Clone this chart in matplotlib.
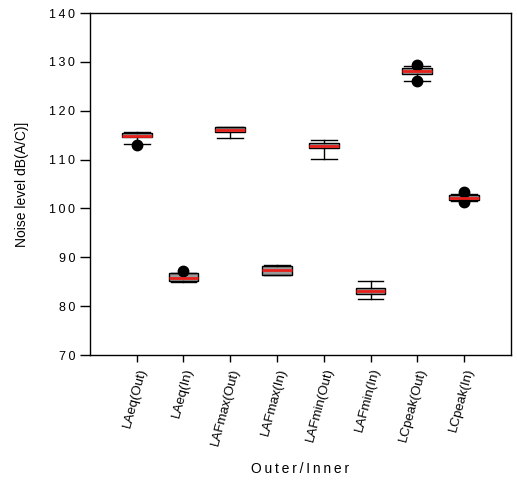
import matplotlib
matplotlib.use("Agg")
import matplotlib.pyplot as plt

plt.rcParams['font.family'] = ['Liberation Sans', 'DejaVu Sans']

# box summary per measure
labels = ['LAeq(Out)', 'LAeq(In)', 'LAFmax(Out)', 'LAFmax(In)',
          'LAFmin(Out)', 'LAFmin(In)', 'LCpeak(Out)', 'LCpeak(In)']
whislo = [113.1, 85.0, 114.5, 86.3, 110.2, 81.5, 126.1, 101.5]
q1 = [114.6, 85.1, 115.7, 86.4, 112.3, 82.5, 127.6, 101.7]
med = [114.8, 85.8, 116.05, 87.3, 112.8, 83.2, 128.1, 102.1]
q3 = [115.5, 86.7, 116.6, 88.3, 113.4, 83.8, 128.7, 102.7]
whishi = [115.6, 86.8, 116.7, 88.4, 114.1, 85.2, 129.2, 103.0]
fliers = [[113.0], [87.1], [], [], [], [], [126.0, 129.3], [101.4, 103.4]]
yticks = [70, 80, 90, 100, 110, 120, 130, 140]

stats = []
for i, lab in enumerate(labels):
    stats.append(dict(label=lab, whislo=whislo[i], q1=q1[i], med=med[i],
                      q3=q3[i], whishi=whishi[i], fliers=fliers[i]))

fig = plt.figure(figsize=(5.17, 4.83), dpi=100)
ax = fig.add_axes([0.174, 0.265, 0.814, 0.708])

pos = list(range(1, len(labels) + 1))
ax.bxp(stats, positions=pos, widths=0.64, patch_artist=True,
       boxprops=dict(facecolor='#9a9a9a', edgecolor='black', linewidth=1),
       medianprops=dict(color='#e8201c', linewidth=2),
       whiskerprops=dict(color='black', linewidth=1),
       capprops=dict(color='black', linewidth=1),
       capwidths=0.55,
       flierprops=dict(marker='o', markerfacecolor='black',
                       markeredgecolor='black', markersize=7.5))

ax.set_xlim(0, 9)
ax.set_ylim(70, 140)
# widely spaced digits on the value axis
ax.set_yticks(yticks)
ax.set_yticklabels(['\u2009'.join(str(v)) for v in yticks], fontsize=9)
ax.set_xticks(pos)
ax.set_xticklabels(labels, rotation=75, ha='right', rotation_mode='anchor',
                   fontsize=9.5)
ax.tick_params(axis='y', direction='out', length=7, width=1)
ax.tick_params(axis='x', direction='out', length=5, width=1)

ax.set_ylabel('Noise level dB(A/C)]', fontsize=10, labelpad=15)
ax.set_xlabel('\u2009'.join('Outer/Inner'), fontsize=10, labelpad=11)
for s in ax.spines.values():
    s.set_linewidth(1)

fig.savefig('out.png', dpi=100)
